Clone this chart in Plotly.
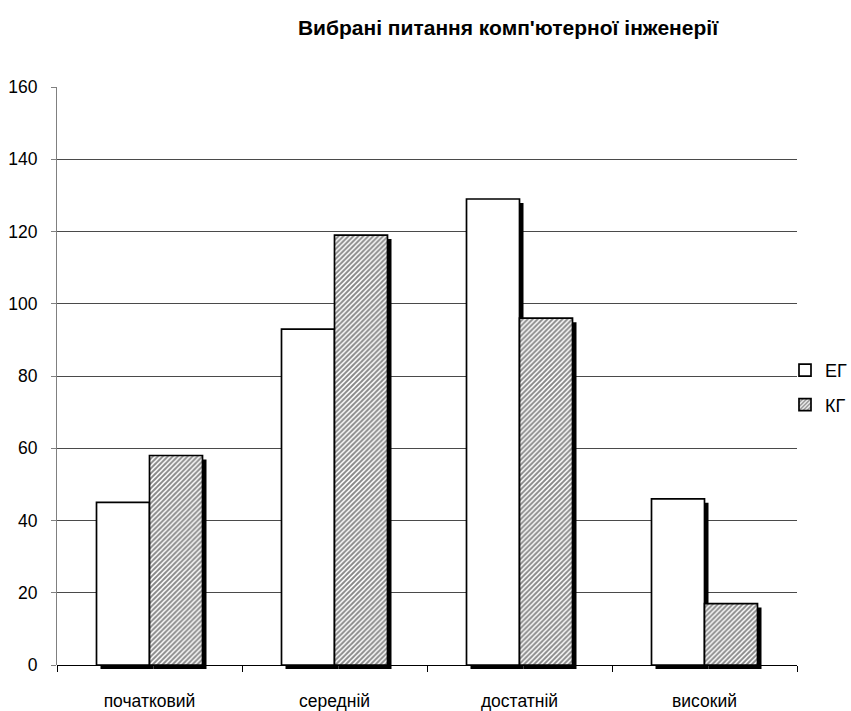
import plotly.graph_objects as go

# Survey results by competence level
categories = ["початковий", "середній", "достатній", "високий"]
eg_values = [45, 93, 129, 46]   # ЕГ
kg_values = [58, 119, 96, 17]   # КГ
series_names = ["ЕГ", "КГ"]
title_text = "Вибрані питання комп'ютерної інженерії"

NARROW = "Liberation Sans Narrow, Arial Narrow, Liberation Sans, Arial, sans-serif"
REGULAR = "Liberation Sans, Arial, sans-serif"

# plot-area geometry (pixels) used to place the drop-shadow layer
L, R, T, B = 57, 50, 87, 42
W, H = 851, 711
PW, PH = W - L - R, H - T - B
SHIFT = 4  # shadow offset in px
dx, dy = SHIFT / PW, SHIFT / PH

fig = go.Figure()

# empty trace so the grid/value-axis subplot is created (drawn first, underneath)
fig.add_trace(go.Scatter(x=[], y=[], xaxis="x", yaxis="y", showlegend=False, hoverinfo="skip"))

# drop shadows: same bars drawn on an axis pair shifted right/down
for vals in (eg_values, kg_values):
    fig.add_trace(go.Bar(
        x=categories, y=vals, xaxis="x2", yaxis="y2",
        marker=dict(color="black", line=dict(width=0)),
        showlegend=False, hoverinfo="skip",
    ))

# the bars themselves
fig.add_trace(go.Bar(
    x=categories, y=eg_values, name=series_names[0], xaxis="x3", yaxis="y3",
    marker=dict(color="white", line=dict(color="black", width=1.7)),
    legendgroup="a",
))
fig.add_trace(go.Bar(
    x=categories, y=kg_values, name=series_names[1], xaxis="x3", yaxis="y3",
    marker=dict(
        color="white",
        line=dict(color="black", width=1.7),
        pattern=dict(shape="/", size=3.5, solidity=0.55, fgcolor="#111", bgcolor="white"),
    ),
    legendgroup="b",
))

cat_range = [-0.5, len(categories) - 0.5]

fig.update_layout(
    width=W, height=H,
    margin=dict(l=L, r=R, t=T, b=B, pad=0, autoexpand=False),
    paper_bgcolor="white", plot_bgcolor="rgba(0,0,0,0)",
    barmode="group", bargap=0.427, bargroupgap=0,
    title=dict(
        text=title_text, x=(508) / W, xanchor="center", y=1 - 28 / H, yanchor="middle",
        font=dict(family=REGULAR, size=21, color="black", weight="bold"),
    ),
    font=dict(family=NARROW, color="black"),
    showlegend=True,
    legend=dict(
        x=(785 - L) / PW, xanchor="left", y=(H - B - 352) / PH, yanchor="top",
        font=dict(family=NARROW, size=18, color="black"),
        bgcolor="rgba(0,0,0,0)", tracegroupgap=8, itemwidth=30,
    ),
    # grid / value axis
    xaxis=dict(domain=[0, 1 - dx], range=[0, 1], visible=False, anchor="y"),
    yaxis=dict(
        domain=[dy, 1], range=[0, 160], dtick=20, anchor="x",
        showgrid=True, gridcolor="#4a4a4a", gridwidth=1,
        zeroline=False, showline=True, linecolor="#808080", linewidth=1,
        ticks="outside", ticklen=5, tickcolor="#808080",
        tickfont=dict(family=NARROW, size=17.5, color="black"),
        ticklabelstandoff=10,
    ),
    # shadow layer
    xaxis2=dict(domain=[dx, 1], type="category", range=cat_range, visible=False, anchor="y2"),
    yaxis2=dict(domain=[0, 1 - dy], range=[0, 160], visible=False, anchor="x2"),
    # bar layer with category axis
    xaxis3=dict(
        domain=[0, 1 - dx], type="category", range=cat_range, anchor="y3",
        showgrid=False, zeroline=False, showline=True, linecolor="black", linewidth=1,
        ticks="outside", ticklen=6, tickcolor="black", tickson="boundaries",
        tickfont=dict(family=NARROW, size=17.5, color="black"),
        ticklabelstandoff=20,
    ),
    yaxis3=dict(domain=[dy, 1], range=[0, 160], visible=False, anchor="x3"),
)

fig.write_html("out.html")
